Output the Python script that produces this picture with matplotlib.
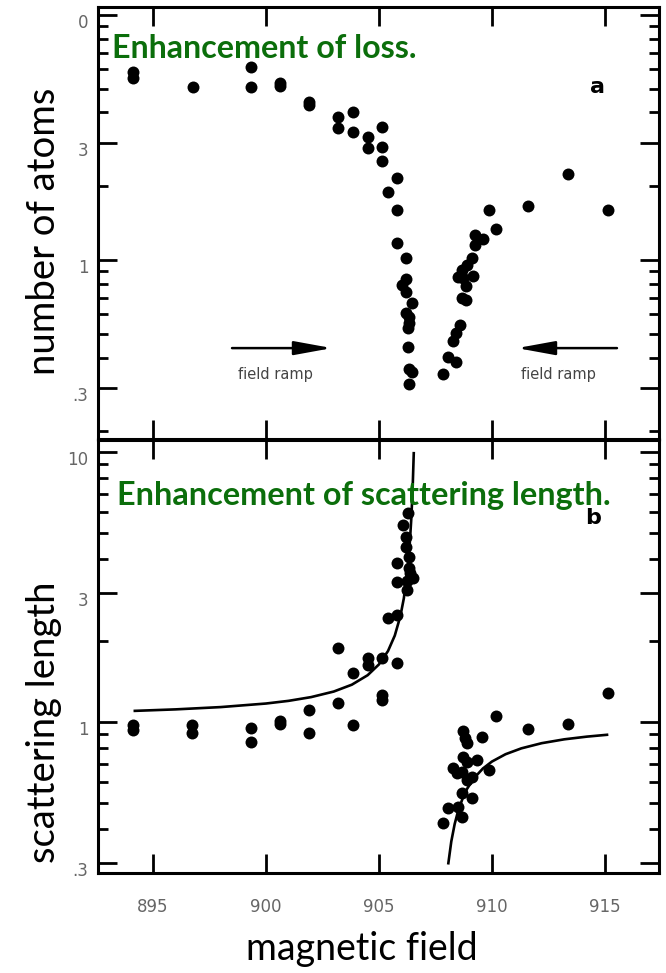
import matplotlib.pyplot as plt
from matplotlib.ticker import FixedLocator, FixedFormatter, LogLocator, NullFormatter
from matplotlib.transforms import ScaledTranslation

# panel a: number of atoms vs magnetic field
atoms_field = [894.12, 894.12, 896.77, 899.34, 899.34, 900.62, 900.62, 901.90, 901.90,
               903.19, 903.19, 903.85, 903.85, 904.51, 904.51, 905.13, 905.13, 905.13,
               905.80, 905.40, 905.80, 905.80, 906.19, 906.19, 906.02, 906.19, 906.46,
               906.19, 906.33, 906.33, 906.28, 906.28, 906.33, 906.46, 906.33,
               907.83, 908.05, 908.41, 908.27, 908.41, 908.58, 908.67, 908.85, 908.85,
               908.72, 908.50, 909.16, 908.67, 908.89, 909.12, 909.25, 909.60, 909.25,
               910.18, 909.87, 911.59, 913.36, 915.13]
atoms_count = [5.85, 5.53, 5.08, 6.13, 5.08, 5.28, 5.13, 4.42, 4.29,
               3.83, 3.46, 4.02, 3.33, 3.18, 2.86, 3.49, 2.89, 2.54,
               2.16, 1.90, 1.60, 1.17, 1.02, 0.836, 0.791, 0.740, 0.667,
               0.608, 0.585, 0.553, 0.528, 0.442, 0.359, 0.349, 0.312,
               0.342, 0.402, 0.383, 0.467, 0.504, 0.543, 0.700, 0.687, 0.783,
               0.844, 0.852, 0.860, 0.910, 0.954, 1.02, 1.15, 1.22, 1.26,
               1.34, 1.60, 1.66, 2.24, 1.60]

# panel b: scattering length vs magnetic field
scat_field = [894.12, 894.12, 896.73, 896.73, 899.34, 899.34, 900.62, 900.62, 901.90, 901.90,
              903.19, 903.19, 903.85, 903.85, 904.51, 904.51, 905.13, 905.80, 905.13, 905.13,
              905.40, 905.80, 905.80, 905.80, 906.24, 906.24, 906.50, 906.37, 906.33, 906.33,
              906.19, 906.19, 906.06, 906.28,
              915.13, 910.18, 911.59, 913.36, 908.72, 908.81, 908.89, 909.56, 908.27, 908.45,
              908.72, 908.89, 909.34, 909.87, 908.67, 909.12, 908.89, 908.67, 909.12, 908.05,
              908.50, 908.67, 907.83]
scat_length = [0.975, 0.934, 0.975, 0.911, 0.950, 0.843, 1.009, 0.983, 1.108, 0.911,
               1.176, 1.88, 0.975, 1.52, 1.73, 1.63, 1.73, 1.65, 1.259, 1.206,
               2.43, 2.49, 3.30, 3.88, 3.08, 3.33, 3.41, 3.56, 3.72, 4.08,
               4.45, 4.84, 5.37, 5.94,
               1.28, 1.05, 0.942, 0.983, 0.926, 0.872, 0.836, 0.880, 0.675, 0.648,
               0.742, 0.711, 0.723, 0.664, 0.653, 0.626, 0.610, 0.546, 0.523, 0.480,
               0.484, 0.445, 0.423]

# fitted curve, below and above the resonance
fit_left_field = [894.20, 896.0, 898.0, 900.0, 901.0, 902.0, 903.0, 903.8, 904.5,
                  905.0, 905.4, 905.7, 905.95, 906.1, 906.25, 906.35, 906.43, 906.49, 906.54]
fit_left_length = [1.100, 1.114, 1.136, 1.171, 1.198, 1.237, 1.297, 1.375, 1.491,
                   1.635, 1.832, 2.090, 2.472, 2.869, 3.563, 4.411, 5.645, 7.30, 9.90]
fit_right_field = [908.07, 908.2, 908.35, 908.5, 908.7, 908.9, 909.2, 909.6, 910.0,
                   910.6, 911.3, 912.2, 913.2, 914.2, 915.09]
fit_right_length = [0.300, 0.361, 0.419, 0.468, 0.521, 0.566, 0.619, 0.673, 0.714,
                    0.760, 0.799, 0.835, 0.863, 0.883, 0.897]

field_ticks = [895, 900, 905, 910, 915]
y_ticks = [0.3, 1, 3, 10]
atoms_tick_labels = ['.3', '1', '3', '0']
scat_tick_labels = ['.3', '1', '3', '10']

W, H = 666, 973
fig = plt.figure(figsize=(W / 100, H / 100), dpi=100)
fig.patch.set_facecolor('white')


def px_axes(x0, y0, x1, y1):
    return fig.add_axes([x0 / W, 1 - y1 / H, (x1 - x0) / W, (y1 - y0) / H])


ax1 = px_axes(98, 7, 659, 439)
ax2 = px_axes(98, 440, 659, 873)

label_shift = ScaledTranslation(0, -0.06, fig.dpi_scale_trans)

for ax, ylim, labels in ((ax1, (0.186, 10.78), atoms_tick_labels),
                         (ax2, (0.276, 11.08), scat_tick_labels)):
    ax.set_yscale('log')
    ax.set_xlim(892.57, 917.39)
    ax.set_ylim(*ylim)
    ax.set_xticks(field_ticks)
    ax.yaxis.set_major_locator(FixedLocator(y_ticks))
    ax.yaxis.set_major_formatter(FixedFormatter(labels))
    ax.yaxis.set_minor_locator(LogLocator(base=10, subs=range(2, 10), numticks=20))
    ax.yaxis.set_minor_formatter(NullFormatter())
    ax.tick_params(which='both', direction='in', top=True, right=True, color='black')
    ax.tick_params(axis='x', which='major', length=14, width=2, pad=18,
                   labelsize=12, labelcolor='#666666')
    ax.tick_params(axis='y', which='major', length=14, width=2, pad=7,
                   labelsize=12, labelcolor='#666666')
    ax.tick_params(axis='y', which='minor', length=7.5, width=2)
    ax.tick_params(axis='x', which='minor', bottom=False, top=False)
    for sp in ax.spines.values():
        sp.set_linewidth(2.2)
    for lab in ax.get_yticklabels():
        lab.set_transform(lab.get_transform() + label_shift)

ax1.tick_params(axis='x', labelbottom=False)

# data points
ax1.plot(atoms_field, atoms_count, 'o', color='black', markersize=8.6, markeredgewidth=0)
ax2.plot(scat_field, scat_length, 'o', color='black', markersize=8.6, markeredgewidth=0)
ax2.plot(fit_left_field, fit_left_length, color='black', lw=1.9)
ax2.plot(fit_right_field, fit_right_length, color='black', lw=1.9)

# field ramp arrows
arrow_y = 0.437
arrow_style = dict(arrowstyle='-|>,head_length=2.3,head_width=0.42', lw=1.8,
                   color='black', shrinkA=0, shrinkB=0, mutation_scale=10)
ax1.annotate('', xy=(902.92, arrow_y), xytext=(898.50, arrow_y), arrowprops=arrow_style)
ax1.annotate('', xy=(911.11, arrow_y), xytext=(915.53, arrow_y), arrowprops=arrow_style)
ax1.text(900.44, 0.34, 'field ramp', ha='center', va='center', fontsize=10.5, color='#444444')
ax1.text(912.96, 0.34, 'field ramp', ha='center', va='center', fontsize=10.5, color='#444444')

ax1.text(914.65, 5.08, 'a', ha='center', va='center', fontsize=16, fontweight='bold')
ax2.text(914.47, 5.70, 'b', ha='center', va='center', fontsize=16, fontweight='bold')

# slide annotations
green = '#0b6e0b'
fig.text(112 / W, 1 - 58 / H, 'Enhancement of loss.', ha='left', va='baseline',
         fontsize=23.2, fontweight='bold', color=green, family='Lato')
fig.text(117 / W, 1 - 505 / H, 'Enhancement of scattering length.', ha='left', va='baseline',
         fontsize=23.3, fontweight='bold', color=green, family='Lato')

fig.text(55 / W, 1 - 231 / H, 'number of atoms', rotation=90, rotation_mode='anchor',
         ha='center', va='baseline', fontsize=27.5, family='Lato')
fig.text(55 / W, 1 - 722 / H, 'scattering length', rotation=90, rotation_mode='anchor',
         ha='center', va='baseline', fontsize=27.5, family='Lato')
fig.text(362 / W, 1 - 960 / H, 'magnetic field', ha='center', va='baseline',
         fontsize=27, family='Lato')

fig.savefig('out.png', dpi=100)
